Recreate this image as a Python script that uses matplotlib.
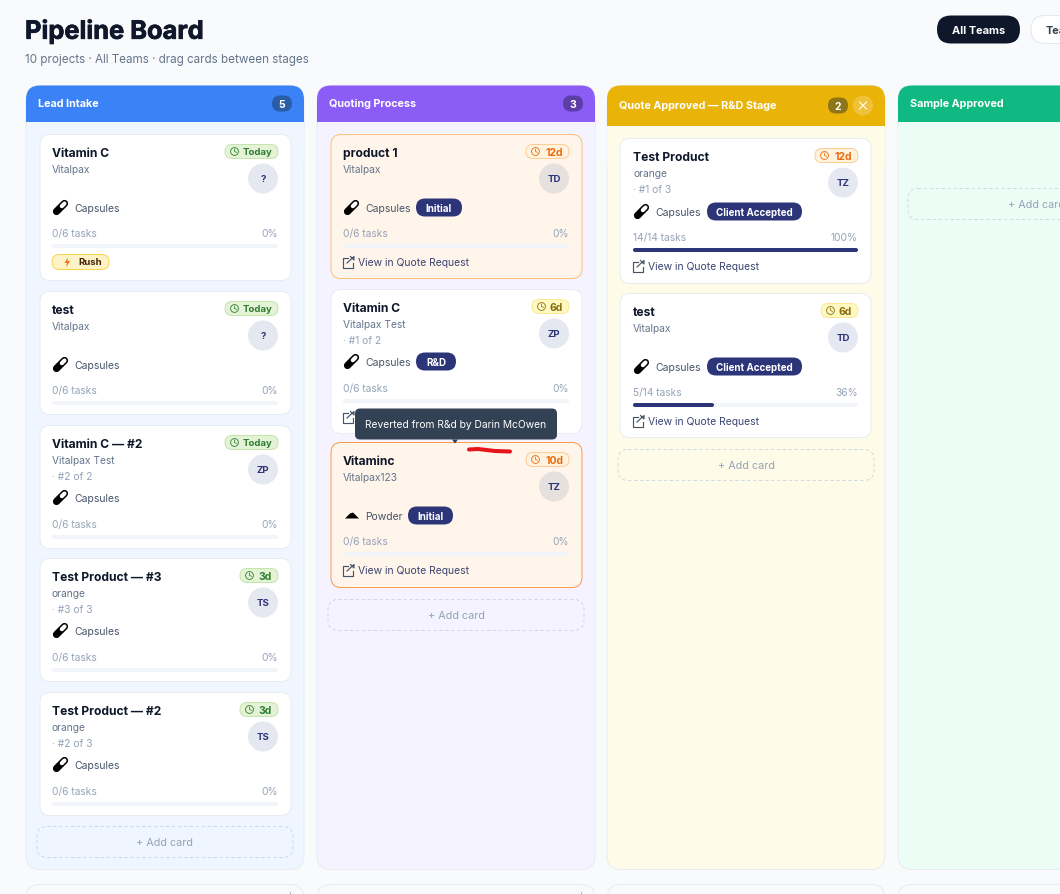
import matplotlib

matplotlib.use('agg')
import matplotlib.pyplot as plt
import matplotlib.patheffects as pe
from matplotlib.patches import FancyBboxPatch, Circle, Polygon, Rectangle

plt.rcParams['font.family'] = ['Inter', 'DejaVu Sans']

# board data
stage_names = ['Lead Intake', 'Quoting Process', 'Quote Approved — R&D Stage', 'Sample Approved']
stage_counts = [5, 3, 2, None]
stage_headers = ['#3b82f6', '#8b5cf6', '#eab308', '#10b981']
stage_bodies = ['#eff6ff', '#f5f3ff', '#fefce8', '#ecfdf5']
stage_badges = ['#2a5ca8', '#5b3ea6', '#8f7518', None]

card_stage = [0, 0, 0, 0, 0, 1, 1, 1, 2, 2]
card_title = ['Vitamin C', 'test', 'Vitamin C — #2', 'Test Product — #3', 'Test Product — #2',
              'product 1', 'Vitamin C', 'Vitaminc', 'Test Product', 'test']
card_client = ['Vitalpax', 'Vitalpax', 'Vitalpax Test', 'orange', 'orange',
               'Vitalpax', 'Vitalpax Test', 'Vitalpax123', 'orange', 'Vitalpax']
card_seq = ['', '', '· #2 of 2', '· #3 of 3', '· #2 of 3',
            '', '· #1 of 2', '', '· #1 of 3', '']
card_age = ['Today', 'Today', 'Today', '3d', '3d', '12d', '6d', '10d', '12d', '6d']
card_owner = ['?', '?', 'ZP', 'TS', 'TS', 'TD', 'ZP', 'TZ', 'TZ', 'TD']
card_type = ['Capsules', 'Capsules', 'Capsules', 'Capsules', 'Capsules',
             'Capsules', 'Capsules', 'Powder', 'Capsules', 'Capsules']
card_status = ['', '', '', '', '', 'Initial', 'R&D', 'Initial', 'Client Accepted', 'Client Accepted']
card_done = [0, 0, 0, 0, 0, 0, 0, 0, 14, 5]
card_total = [6, 6, 6, 6, 6, 6, 6, 6, 14, 14]
card_rush = [True, False, False, False, False, False, False, False, False, False]
card_link = [False, False, False, False, False, True, True, True, True, True]
card_tint = ['', '', '', '', '', 'soft', '', 'strong', '', '']

# layout, in screen pixels
card_tops = [135, 292, 426, 559, 693, 135, 290, 443, 139, 294]
card_bottoms = [281, 415, 549, 682, 816, 279, 434, 588, 284, 438]
col_left = [26, 317, 607, 898]
add_tops = [827, 600, 450, 189]
status_left = [None, None, None, None, None, 416, 416, 408, 707, 707]
status_width = [0, 0, 0, 0, 0, 46, 40, 45, 95, 95]

age_styles = {'Today': ('#e4f3d6', '#bfe3a6', '#2f7d32', 53), '3d': ('#e4f3d6', '#bfe3a6', '#2f7d32', 38),
              '6d': ('#fef9c3', '#fde68a', '#8a6d0b', 37), '10d': ('#fff3e0', '#fdc98a', '#ea6a0a', 43),
              '12d': ('#fff3e0', '#fdc98a', '#ea6a0a', 43)}
NAVY = '#2d3579'
INK = '#0f172a'
MUTED = '#94a3b8'

fig = plt.figure(figsize=(10.6, 8.95), dpi=100, facecolor='#f8fafc')
ax = fig.add_axes([0, 0, 1, 1])
ax.set_xlim(0, 1060)
ax.set_ylim(894.5, -0.5)
ax.axis('off')


def fs(px):
    return px * 0.72


def box(x, y, w, h, r, fc, ec='none', lw=1.0, ls='-', z=2):
    p = FancyBboxPatch((x, y), w, h, boxstyle='round,pad=0,rounding_size=%g' % r, fc=fc, ec=ec,
                       lw=lw * 0.72, ls=ls, zorder=z)
    ax.add_patch(p)
    return p


def label(x, y, s, px, color, weight='normal', ha='left', z=5):
    # nudged up a little, text sits slightly high in the reference
    return ax.text(x, y - 0.7, s, fontsize=fs(px), color=color, fontweight=weight, ha=ha, va='center_baseline', zorder=z)


def capsule(cx, cy):
    ax.plot([cx - 4, cx + 4], [cy + 4, cy - 4], color='black', lw=5.2, solid_capstyle='round', zorder=4)
    ax.plot([cx + 1.3, cx + 4], [cy - 1.3, cy - 4], color='white', lw=3.0, solid_capstyle='round', zorder=4)


def powder(cx, cy):
    ax.add_patch(Polygon([(cx - 7, cy + 3), (cx - 2, cy - 2), (cx + 1, cy - 3), (cx + 7, cy + 3)],
                         fc='black', ec='none', zorder=4))


def clock(cx, cy, color):
    ax.add_patch(Circle((cx, cy), 3.9, fc='none', ec=color, lw=0.6, zorder=6))
    ax.plot([cx, cx, cx + 2], [cy - 2.4, cy, cy + 0.8], color=color, lw=0.55, zorder=6)


def link_icon(x, y):
    ax.plot([x + 5, x, x, x + 10, x + 10], [y - 4, y - 4, y + 6, y + 6, y + 1], color='#475569', lw=0.85, zorder=4)
    ax.plot([x + 4, x + 11, x + 11, x + 7.5], [y + 1.5, y - 5, y - 1.5, y - 5], color='#475569', lw=0.85, zorder=4)


# page header
title = label(25, 30, 'Pipeline Board', 25.4, INK, 'bold')
title.set_path_effects([pe.withStroke(linewidth=0.5, foreground=INK)])
label(25, 59, '10 projects · All Teams · drag cards between stages', 11.66, '#64748b')
box(937, 16, 83, 28, 14, INK)
label(978.5, 30, 'All Teams', 11, 'white', 'bold', 'center')
box(1031, 16, 60, 28, 14, 'white', '#e2e8f0')
label(1046, 30, 'Tea', 11, '#334155', 'bold')

# columns
for i, name in enumerate(stage_names):
    x = col_left[i]
    head_h = 40 if i == 2 else 36
    box(x, 86, 278, 784, 14, stage_bodies[i], '#e6ebf2', lw=0.9, z=1)
    box(x, 86, 278, 60, 14, stage_headers[i], z=2)
    ax.add_patch(Rectangle((x, 86 + head_h), 278, 40, fc=stage_bodies[i], ec='none', zorder=2))
    ax.plot([x, x], [86 + head_h, 126], color='#e6ebf2', lw=0.6, zorder=2)
    ax.plot([x + 278, x + 278], [86 + head_h, 126], color='#e6ebf2', lw=0.6, zorder=2)
    label(x + 12, 86 + head_h / 2 - 0.5, name, 10.8, 'white', 'bold')
    if stage_counts[i] is not None:
        bx = x + 221 if i == 2 else x + 246
        box(bx, 86 + head_h / 2 - 8, 20, 16, 8, stage_badges[i], z=3)
        label(bx + 10, 86 + head_h / 2, str(stage_counts[i]), 10.5, 'white', 'bold', 'center')
    if i == 2:
        ax.add_patch(Circle((x + 256, 106), 10, fc='#efc239', ec='none', zorder=3))
        ax.plot([x + 252.5, x + 259.5], [102.5, 109.5], color='white', lw=0.8, zorder=4)
        ax.plot([x + 252.5, x + 259.5], [109.5, 102.5], color='white', lw=0.8, zorder=4)
    ax_w = 256 if i < 3 else 257
    box(x + 11 if i < 3 else x + 10, add_tops[i], ax_w, 31, 10, 'none', '#cbd5e1', lw=0.85, ls=(0, (4, 3)), z=3)
    label(x + 139, add_tops[i] + 15.5, '+ Add card', 10.8, MUTED, 'normal', 'center')
    # collapsed row below
    box(x, 885, 278, 60, 14, '#f8fafc', '#e6ebf2', lw=0.9, z=1)
    if i < 2:
        ax.plot([x + 264, x + 264], [892, 895], color='#94a3b8', lw=0.6, zorder=2)

# cards
for k in range(len(card_title)):
    x = col_left[card_stage[k]] + 14
    if card_stage[k] == 2:
        x = col_left[2] + 13
    top = card_tops[k]
    w = 251
    tint = card_tint[k]
    if tint == 'soft':
        face, edge = '#fff5eb', '#fdba74'
    elif tint == 'strong':
        face, edge = '#fff5eb', '#fb923c'
    else:
        face, edge = 'white', '#e6ebf2'
    box(x, top, w, card_bottoms[k] - top, 10, face, edge, lw=0.9, z=3)
    right = x + w - 13
    left = x + 13 if card_stage[k] == 2 else x + 12
    label(left, top + 17.5, card_title[k], 12.1, INK, 'bold')
    label(left, top + 34.5, card_client[k], 10.2, '#64748b')
    if card_seq[k]:
        label(left, top + 50.5, card_seq[k], 10.2, MUTED)

    # age pill
    pf, pec, pt, pw = age_styles[card_age[k]]
    box(right - pw, top + 10, pw, 14, 7, pf, pec, lw=0.9, z=4)
    clock(right - pw + 9.5, top + 17, pt)
    label(right - 6, top + 17, card_age[k], 9.6 if card_age[k] == 'Today' else 10.4, pt, 'bold', 'right')

    # owner avatar
    av = '#e6e1de' if tint else '#e5e8f0'
    ax.add_patch(Circle((right - 15, top + 44), 15, fc=av, ec='none', zorder=4))
    label(right - 15, top + 44, card_owner[k], 9.6, NAVY, 'bold', 'center')

    # type row
    ty = top + (72 if card_seq[k] and card_stage[k] != 2 else 73)
    if card_type[k] == 'Capsules':
        capsule(left + 8.5, ty)
    else:
        powder(left + 9, ty)
    label(left + 22, ty, card_type[k], 10.4, '#475569')
    if card_status[k]:
        box(status_left[k], ty - 9, status_width[k], 18, 9, NAVY, z=4)
        label(status_left[k] + status_width[k] / 2, ty, card_status[k], 9.8, 'white', 'bold', 'center')

    # progress
    pct = round(card_done[k] / card_total[k] * 100)
    label(left, top + 98, '%d/%d tasks' % (card_done[k], card_total[k]), 10.2, MUTED)
    label(right, top + 98, '%d%%' % pct, 10.2, MUTED, 'normal', 'right')
    box(left, top + 109.5, right - left, 4, 2, '#f1f5f9', z=4)
    if card_done[k]:
        box(left, top + 109.5, (right - left) * pct / 100, 4, 2, NAVY, z=5)

    # footer
    if card_rush[k]:
        box(left, top + 120, 57, 15, 7.5, '#fef3c7', '#fcd34d', z=4)
        ax.add_patch(Polygon([(left + 16, top + 123), (left + 12.5, top + 128.5), (left + 15, top + 128.5),
                              (left + 14, top + 133), (left + 18, top + 126.5), (left + 15.5, top + 126.5)],
                             fc='#f97316', ec='none', zorder=5))
        label(left + 38, top + 127, 'Rush', 9.6, '#422006', 'bold', 'center')
    if card_link[k]:
        link_icon(left, top + 127)
        label(left + 15, top + 127.5, 'View in Quote Request', 10.4, '#3b4470')

# tooltip over the second quoting card
box(355, 409, 202, 31, 5, '#334155', z=8)
label(456, 424.5, 'Reverted from R&d by Darin McOwen', 10.25, 'white', 'normal', 'center', z=9)
ax.add_patch(Polygon([(452, 440), (458, 440), (455, 444)], fc='#334155', ec='none', zorder=8))

# red marker stroke
ax.plot([469, 478, 495, 510], [450, 449.5, 451.5, 452], color='#e8141c', lw=2.9, solid_capstyle='round', zorder=10)

fig.savefig('out.png', dpi=100, facecolor=fig.get_facecolor())
